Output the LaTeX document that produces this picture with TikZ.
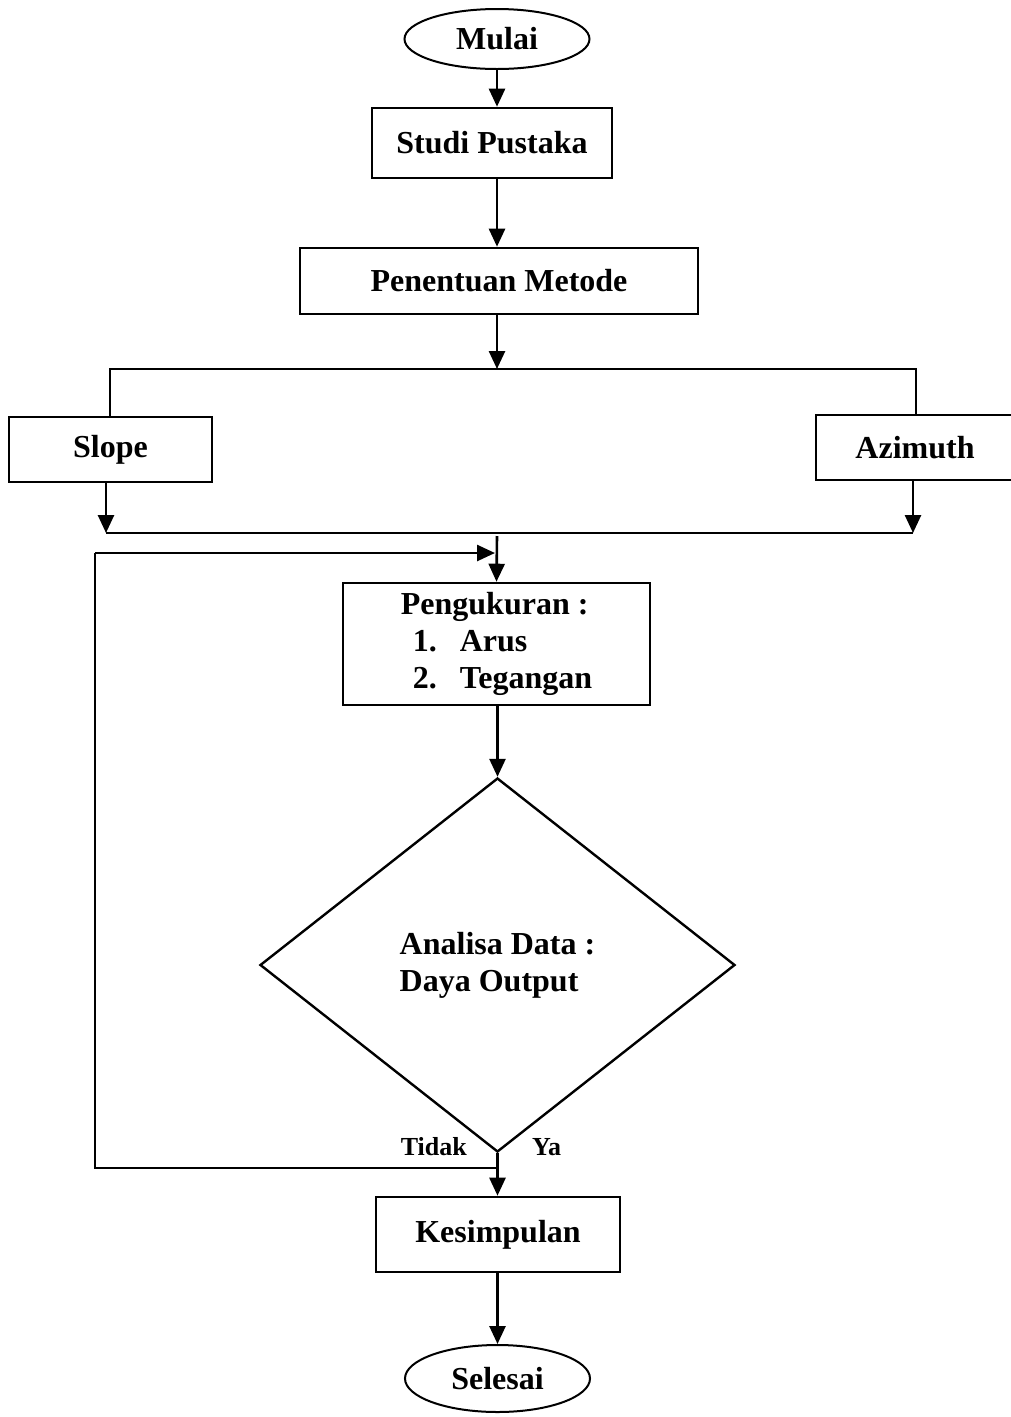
\documentclass[tikz,border=0pt]{standalone}
\usepackage{fontspec}
\setmainfont{Liberation Serif}
\usetikzlibrary{shapes.geometric,arrows.meta}
\def\bigtext{\fontsize{32}{37}\selectfont\bfseries}
\def\smalltext{\fontsize{26}{30}\selectfont\bfseries}
\tikzset{
	procbox/.style={draw,line width=2.6pt,rectangle,font=\bigtext,inner sep=0pt},
	termbox/.style={draw,line width=2pt,ellipse,font=\bigtext,inner sep=0pt},
	decbox/.style={draw,line width=2.4pt,diamond,font=\bigtext,align=left,inner sep=0pt},
	arr/.style={line width=2.6pt,-{Triangle[length=18pt,width=16pt]}},
	thinline/.style={line width=1.4pt},
	lbl/.style={font=\smalltext,inner sep=0pt}
}

\begin{document}
\begin{tikzpicture}[x=1pt,y=-1pt]
				\useasboundingbox (0,0) rectangle (1011,1417);
				
				%main boxes
				\node[termbox,minimum width=185pt,minimum height=60pt] (mulai) at (497,39) {Mulai};
				\node[procbox,minimum width=240pt,minimum height=70pt] (studi) at (492,143) {Studi Pustaka};
				\node[procbox,minimum width=398pt,minimum height=66pt] (metode) at (499,281) {Penentuan Metode};
				\node[procbox,minimum width=203pt,minimum height=65pt] (slope) at (110.5,449.5) {Slope};
				\node[procbox,minimum width=214pt,minimum height=65pt] (azimuth) at (923,447.5) {\hspace*{-16pt}Azimuth};
				\node[procbox,minimum width=307pt,minimum height=122pt,align=left] (ukur) at (496.5,644)
					{Pengukuran :\\\hspace*{12pt}1.\hspace*{23pt}Arus\\\hspace*{12pt}2.\hspace*{23pt}Tegangan};
				\node[decbox,minimum width=475pt,minimum height=374pt] (analisa) at (497.5,965)
					{Analisa Data :\\Daya Output};
				\node[procbox,minimum width=244pt,minimum height=75pt] (simpul) at (498,1234.5) {Kesimpulan};
				\node[termbox,minimum width=185pt,minimum height=67pt] (selesai) at (497.5,1378.5) {Selesai};
				
				%split and merge points
				\coordinate (split) at (497,369);
				\coordinate (merge) at (497,536);
				\coordinate (loopa) at (95,1168);
				\coordinate (loopb) at (95,553);
				
				\draw[arr] (mulai) -- (mulai |- studi.north);
				\draw[arr] (mulai |- studi.south) -- (mulai |- metode.north);
				\draw[arr] (split |- metode.south) -- (split);
				
				%branches
				\draw[thinline] (110,417) -- (110,369) -- (916,369) -- (916,415);
				\draw[arr] (106,482) -- (106,533);
				\draw[arr] (913,480) -- (913,533);
				\draw[thinline] (106,533) -- (913,533);
				\draw[arr] (merge) -- (ukur.north);
				
				\draw[arr] (ukur.south -| analisa.north) -- (analisa.north);
				
				%loop back
				\draw[thinline] (analisa.south |- loopa) -- (loopa) -- (loopb);
				\draw[arr] (loopb) -- (495,553);
				
				\draw[arr] (analisa.south) -- (analisa.south |- simpul.north);
				\draw[arr] (analisa.south |- simpul.south) -- (selesai.north);
				
				\node[lbl,anchor=base east] (tidak) at (467,1155) {Tidak};
				\node[lbl,anchor=base west] (ya) at (532,1155) {Ya};
			\end{tikzpicture}
\end{document}
